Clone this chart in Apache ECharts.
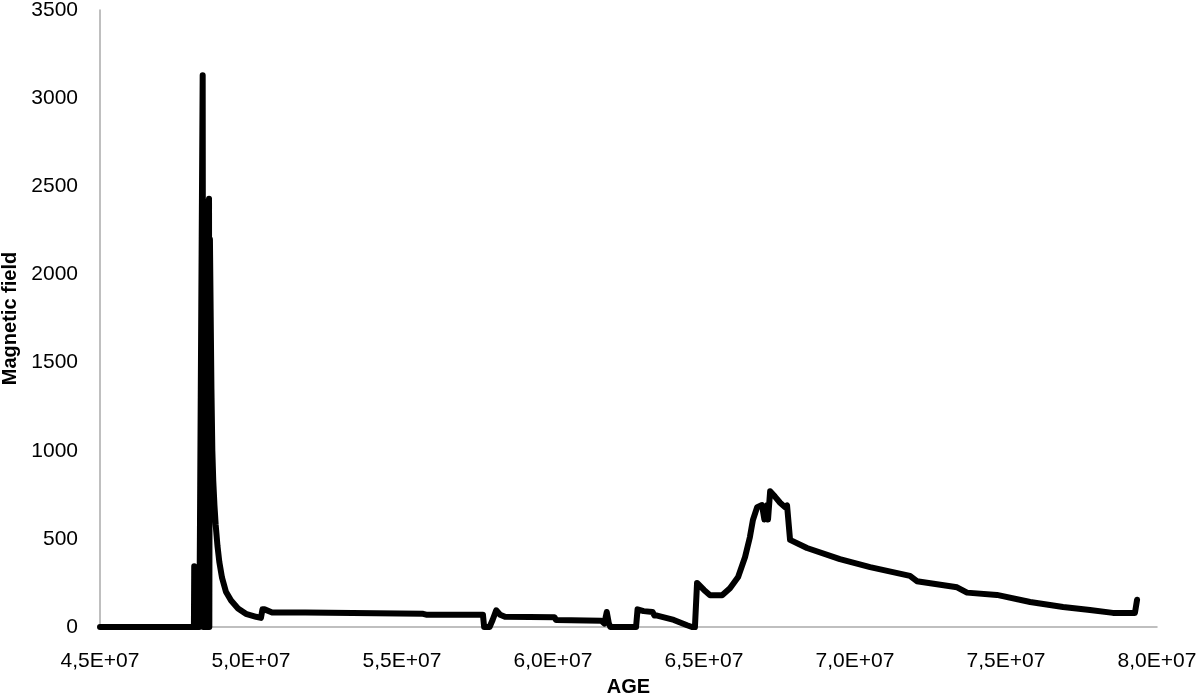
<!DOCTYPE html>
<html>
<head>
<meta charset="utf-8">
<script src="https://cdn.jsdelivr.net/npm/echarts@6/dist/echarts.min.js"></script>
<style>
  html, body { margin: 0; padding: 0; background: #fff; }
  #chart { width: 1200px; height: 699px; }
</style>
</head>
<body>
<div id="chart"></div>
<script>
// 数据 - 近似值
const ages = [
    4.500e7, 4.811e7, 4.812e7, 4.814e7, 4.829e7, 4.840e7, 4.842e7, 4.844e7, 4.845e7, 4.847e7,
    4.848e7, 4.850e7, 4.851e7, 4.853e7, 4.854e7, 4.856e7, 4.857e7, 4.859e7, 4.860e7, 4.861e7,
    4.862e7, 4.864e7, 4.869e7, 4.872e7, 4.875e7, 4.879e7, 4.883e7, 4.889e7, 4.895e7, 4.904e7,
    4.917e7, 4.934e7, 4.957e7, 4.983e7, 5.017e7, 5.033e7, 5.038e7, 5.045e7, 5.050e7, 5.070e7,
    5.180e7, 5.185e7, 5.570e7, 5.580e7, 5.768e7, 5.772e7, 5.790e7, 5.800e7, 5.812e7, 5.825e7,
    5.841e7, 6.005e7, 6.010e7, 6.160e7, 6.170e7, 6.178e7, 6.185e7, 6.190e7, 6.275e7, 6.280e7,
    6.300e7, 6.330e7, 6.336e7, 6.345e7, 6.400e7, 6.444e7, 6.460e7, 6.470e7, 6.477e7, 6.500e7,
    6.520e7, 6.560e7, 6.586e7, 6.613e7, 6.636e7, 6.652e7, 6.662e7, 6.676e7, 6.692e7, 6.700e7,
    6.709e7, 6.712e7, 6.719e7, 6.735e7, 6.752e7, 6.768e7, 6.775e7, 6.785e7, 6.841e7, 6.950e7,
    7.050e7, 7.182e7, 7.205e7, 7.338e7, 7.371e7, 7.470e7, 7.580e7, 7.689e7, 7.778e7, 7.854e7,
    7.927e7, 7.934e7
];
const field = [
    0, 0, 345, 0, 0, 3130, 0, 1800, 0, 2100,
    0, 2300, 0, 2350, 0, 2400, 0, 2420, 0, 2430,
    0, 2200, 1350, 1000, 830, 690, 580, 460, 370, 280,
    200, 150, 105, 75, 58, 52, 100, 100, 90, 82,
    82, 75, 75, 70, 70, 0, 0, 40, 95, 70,
    58, 55, 40, 35, 20, 85, 20, 0, 0, 100,
    90, 85, 65, 65, 40, 10, 0, 0, 250, 210,
    180, 180, 220, 284, 397, 510, 607, 680, 692, 610,
    690, 610, 770, 740, 705, 680, 690, 494, 448, 385,
    340, 290, 260, 225, 195, 182, 142, 113, 96, 80,
    80, 155
];
const xTicks = { min: 4.5e7, max: 8.0e7, step: 5e6 };
const yTicks = { min: 0, max: 3500, step: 500 };

const chart = echarts.init(document.getElementById('chart'));

const sciLabel = (v) => (v / 1e7).toFixed(1).replace('.', ',') + 'E+07';

chart.setOption({
    animation: false,
    grid: { left: 100, right: 43, top: 10, bottom: 72, containLabel: false, outerBoundsMode: 'none' },
    xAxis: {
        type: 'value',
        min: xTicks.min,
        max: xTicks.max,
        interval: xTicks.step,
        name: 'AGE',
        nameLocation: 'middle',
        nameGap: 50,
        nameTextStyle: { fontFamily: 'Liberation Sans', fontWeight: 'bold', fontSize: 20, color: '#000' },
        axisLine: { lineStyle: { color: '#aaaaaa', width: 1.5 } },
        axisTick: { show: false },
        splitLine: { show: false },
        axisLabel: {
            formatter: sciLabel,
            fontFamily: 'Liberation Sans',
            fontSize: 21,
            color: '#000',
            margin: 24
        }
    },
    yAxis: {
        type: 'value',
        min: yTicks.min,
        max: yTicks.max,
        interval: yTicks.step,
        name: 'Magnetic field',
        nameLocation: 'middle',
        nameGap: 72,
        nameRotate: 90,
        nameTextStyle: { fontFamily: 'Liberation Sans', fontWeight: 'bold', fontSize: 20, color: '#000' },
        axisLine: { show: true, lineStyle: { color: '#aaaaaa', width: 1.5 } },
        axisTick: { show: false },
        splitLine: { show: false },
        axisLabel: {
            formatter: (v) => String(v),
            fontFamily: 'Liberation Sans',
            fontSize: 21,
            color: '#000',
            margin: 22
        }
    },
    series: [{
        type: 'line',
        data: ages.map((a, i) => [a, field[i]]),
        showSymbol: false,
        lineStyle: { color: '#000', width: 6, cap: 'round', join: 'round' }
    }]
});
</script>
</body>
</html>
